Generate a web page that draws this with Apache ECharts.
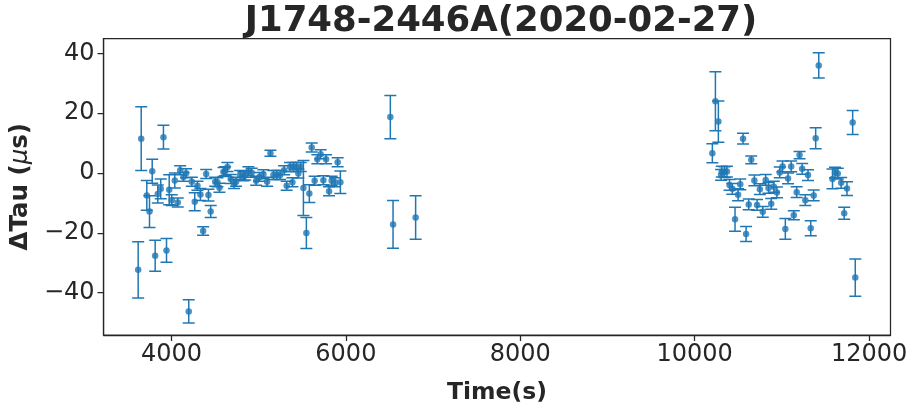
<!DOCTYPE html>
<html>
<head>
<meta charset="utf-8">
<title>J1748-2446A(2020-02-27)</title>
<script src="https://cdn.jsdelivr.net/npm/echarts/dist/echarts.min.js"></script>
<style>
  html, body { margin: 0; padding: 0; background: #ffffff; }
  #chart { width: 914px; height: 410px; }
</style>
</head>
<body>
<div id="chart"></div>
<script>
// Timing residuals of J1748-2446A, observation of 2020-02-27
const timeSec = [
  3618, 3653, 3717, 3748, 3779, 3813, 3843, 3877, 3908, 3943,
  3974, 4003, 4038, 4072, 4100, 4138, 4168, 4198, 4233, 4267,
  4298, 4332, 4363, 4398, 4424, 4450, 4501, 4527, 4550, 4596,
  4615, 4642, 4680, 4718, 4741, 4787, 4825, 4845, 4882, 4920,
  4971, 5008, 5054, 5097, 5135, 5169, 5207, 5246, 5292, 5321,
  5360, 5387, 5398, 5436, 5455, 5482, 5513, 5547, 5581, 5608,
  5642, 5673, 5711, 5742, 5773, 5807, 5837, 5876, 5906, 5937,
  6510, 6541, 6800,
  10203, 10238, 10272, 10303, 10311, 10343, 10370, 10400, 10432, 10463,
  10498, 10523, 10555, 10590, 10620, 10649, 10685, 10716, 10748, 10781,
  10815, 10847, 10878, 10908, 10943, 10976, 11008, 11040, 11071, 11107,
  11137, 11170, 11203, 11233, 11269, 11300, 11331, 11365, 11388, 11423,
  11581, 11610, 11641, 11680, 11715, 11747, 11812, 11842
];
const deltaTau = [
  -32.4, 11.5, -7.5, -12.9, 0.6, -27.7, -7.0, -5.3, 12.0, -25.9,
  -5.6, -9.1, -2.5, -9.9, 0.9, -1.3, -0.1, -46.3, -2.9, -9.6,
  -4.3, -7.2, -19.4, -0.3, -7.4, -12.9, -2.9, -3.1, -4.9, 0.3,
  0.6, 2.0, -2.0, -3.7, -2.9, -0.7, -1.1, -0.8, 0.6, 0.1,
  -2.6, -1.3, -0.4, -2.9, 6.6, -0.7, -0.7, -0.7, 0.9, -4.3,
  2.0, -3.1, 2.0, 2.0, -0.2, 2.0, -5.0, -20.1, -6.9, 8.5,
  -2.6, 4.6, 6.3, -2.4, 4.6, -6.1, -2.6, -3.1, 3.6, -3.1,
  18.7, -17.2, -14.9,
  6.6, 24.0, 17.2, -0.6, 0.5, 0.3, 0.5, -4.0, -5.3, -15.5,
  -7.3, -3.8, 11.5, -20.4, -10.5, 4.4, -2.5, -10.7, -5.4, -13.0,
  -2.3, -5.0, -10.3, -4.6, -6.5, 0.2, 2.2, -18.7, -1.8, 2.2,
  -14.1, -6.4, 6.0, 1.4, -9.1, -0.7, -18.5, -7.5, 11.6, 36.0,
  -2.0, 0.1, -0.2, -3.3, -13.5, -5.2, 16.9, -35.0
];
const tauErr = [
  9.4, 10.7, 5.0, 5.3, 4.0, 5.2, 3.0, 3.3, 4.0, 4.0,
  5.0, 1.8, 2.5, 1.5, 1.5, 1.5, 1.5, 3.9, 1.5, 3.0,
  1.5, 2.0, 1.4, 1.5, 2.0, 2.0, 1.5, 1.5, 1.5, 1.5,
  1.5, 1.5, 1.5, 1.5, 1.5, 1.5, 1.5, 1.5, 1.5, 1.5,
  1.5, 1.5, 1.5, 1.5, 1.0, 1.5, 1.5, 1.5, 1.5, 1.5,
  1.5, 1.5, 1.5, 1.5, 1.5, 1.5, 9.2, 5.2, 3.0, 1.5,
  1.5, 1.5, 1.5, 1.5, 1.5, 1.5, 1.5, 1.5, 1.5, 3.8,
  7.2, 8.0, 7.3,
  3.2, 9.9, 6.9, 1.8, 1.8, 1.8, 1.8, 1.8, 1.8, 4.0,
  2.0, 1.8, 1.8, 2.5, 1.8, 1.3, 1.8, 1.8, 1.8, 1.8,
  1.8, 1.8, 1.8, 1.8, 1.8, 1.8, 1.8, 3.5, 1.8, 1.8,
  1.5, 1.8, 1.2, 1.8, 1.8, 1.8, 2.5, 1.8, 3.5, 4.2,
  3.3, 1.8, 1.8, 1.8, 2.0, 2.3, 4.0, 6.2
];

const xTicks = [4000, 6000, 8000, 10000, 12000];
const yTicks = [-40, -20, 0, 20, 40];
const xRange = [3221, 12246];
const yRange = [-54.2, 45];

const BLUE = '#1f77b4';
const INK = '#262626';
const FONT = 'DejaVu Sans';

const points = timeSec.map((t, i) => [t, deltaTau[i]]);
const bars = timeSec.map((t, i) => [t, deltaTau[i], tauErr[i]]);

// vertical error bar with caps at both ends
function renderErrorBar(params, api) {
  const x = api.value(0), y = api.value(1), e = api.value(2);
  const top = api.coord([x, y + e]);
  const bot = api.coord([x, y - e]);
  const cap = 6;
  const style = { stroke: BLUE, lineWidth: 1.5, fill: null };
  return {
    type: 'group',
    children: [
      { type: 'line', shape: { x1: top[0], y1: top[1], x2: bot[0], y2: bot[1] }, style },
      { type: 'line', shape: { x1: top[0] - cap, y1: top[1], x2: top[0] + cap, y2: top[1] }, style },
      { type: 'line', shape: { x1: bot[0] - cap, y1: bot[1], x2: bot[0] + cap, y2: bot[1] }, style }
    ]
  };
}

const fmt = v => (v < 0 ? '\u2212' + Math.abs(v) : String(v));

const chart = echarts.init(document.getElementById('chart'), null, { renderer: 'canvas' });
chart.setOption({
  animation: false,
  backgroundColor: '#ffffff',
  title: {
    text: 'J1748-2446A(2020-02-27)',
    left: 496, top: -1,
    textAlign: 'center',
    textStyle: { fontFamily: FONT, fontWeight: 'bold', fontSize: 35.5, color: INK }
  },
  grid: {
    left: 103, right: 23.5, top: 38.5, bottom: 66,
    show: true, borderColor: INK, borderWidth: 1.25, backgroundColor: 'transparent'
  },
  xAxis: {
    type: 'value',
    min: xRange[0], max: xRange[1],
    name: 'Time(s)',
    nameLocation: 'middle',
    nameGap: 46,
    nameTextStyle: { fontFamily: FONT, fontWeight: 'bold', fontSize: 23.5, color: INK },
    axisLine: { show: true, onZero: false, lineStyle: { color: INK, width: 1.25 } },
    axisTick: { show: true, length: 6, customValues: xTicks, lineStyle: { color: INK, width: 1.25 } },
    axisLabel: { customValues: xTicks, fontFamily: FONT, fontSize: 24, color: INK, margin: 8, formatter: fmt },
    splitLine: { show: false }
  },
  yAxis: {
    type: 'value',
    min: yRange[0], max: yRange[1],
    name: '{b|ΔTau (}{m|μ}{b|s)}',
    nameLocation: 'middle',
    nameGap: 62,
    nameRotate: 90,
    nameTextStyle: {
      rich: {
        b: { fontFamily: FONT, fontWeight: 'bold', fontSize: 24.5, color: INK },
        m: { fontFamily: FONT, fontStyle: 'italic', fontSize: 24.5, color: INK }
      }
    },
    axisLine: { show: true, onZero: false, lineStyle: { color: INK, width: 1.25 } },
    axisTick: { show: true, length: 6, customValues: yTicks, lineStyle: { color: INK, width: 1.25 } },
    axisLabel: { customValues: yTicks, fontFamily: FONT, fontSize: 24, color: INK, margin: 9, formatter: fmt },
    splitLine: { show: false }
  },
  series: [
    {
      type: 'custom',
      renderItem: renderErrorBar,
      data: bars,
      encode: { x: 0, y: [1, 2] },
      clip: true,
      z: 2
    },
    {
      type: 'scatter',
      data: points,
      symbol: 'circle',
      symbolSize: 6.5,
      itemStyle: { color: BLUE },
      z: 3
    }
  ]
});
</script>
</body>
</html>
